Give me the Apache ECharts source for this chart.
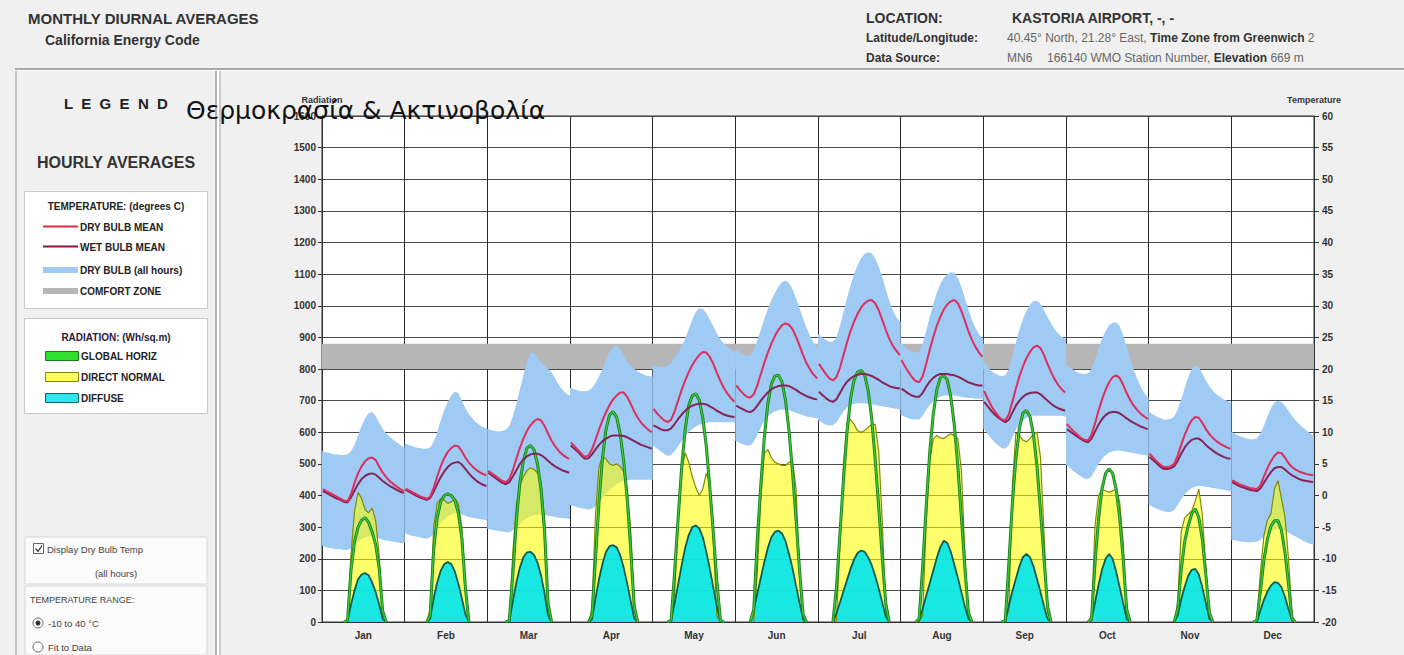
<!DOCTYPE html>
<html>
<head>
<meta charset="utf-8">
<title>Monthly Diurnal Averages</title>
<script src="https://cdn.jsdelivr.net/npm/echarts@6/dist/echarts.min.js"></script>
<style>
  html, body { margin: 0; padding: 0; background: #f0f0f0; }
  #chart { width: 1404px; height: 655px; }
</style>
</head>
<body>
<div id="chart"></div>
<script>
// ---- data: hourly averages (hour 0..23) for each month ----
const MONTHS = ['Jan', 'Feb', 'Mar', 'Apr', 'May', 'Jun', 'Jul', 'Aug', 'Sep', 'Oct', 'Nov', 'Dec'];

// Temperature axis (deg C, right) and radiation axis (W/sq.m, left)
const TEMP_RANGE = [-20, 60, 5];
const RAD_RANGE = [0, 1600, 100];
const comfortZone = [20, 24];

const dryBulbMean = [
  [1.0,0.7,0.4,0.1,-0.2,-0.5,-0.8,-0.9,0.2,2.0,3.5,4.6,5.4,5.9,6.0,5.6,4.6,3.6,2.9,2.3,1.8,1.4,1.0,0.7],
  [1.1,0.8,0.5,0.2,-0.1,-0.3,-0.5,-0.2,1.2,3.0,4.6,5.9,6.9,7.5,7.9,7.8,7.0,6.0,5.2,4.6,4.1,3.7,3.4,3.2],
  [3.9,3.5,3.1,2.7,2.3,2.1,2.6,4.0,5.8,7.5,9.0,10.2,11.1,11.7,12.1,11.9,11.0,9.8,8.7,7.8,7.1,6.5,6.1,5.8],
  [8.4,7.8,7.2,6.6,6.1,6.3,7.3,8.8,10.4,11.9,13.2,14.3,15.2,15.8,16.3,16.3,15.6,14.5,13.3,12.3,11.5,10.9,10.4,10.0],
  [13.7,13.0,12.4,11.9,11.6,12.0,13.3,15.0,16.7,18.2,19.5,20.6,21.5,22.2,22.7,22.6,21.9,20.8,19.4,18.1,17.0,16.1,15.4,14.8],
  [17.4,16.7,16.1,15.6,15.5,16.0,17.4,19.2,21.0,22.6,24.0,25.2,26.2,26.9,27.2,27.0,26.3,25.1,23.7,22.2,20.9,19.9,19.1,18.5],
  [20.8,20.0,19.2,18.5,18.2,18.7,20.2,22.2,24.2,26.0,27.5,28.7,29.7,30.4,30.8,30.9,30.4,29.3,27.8,26.2,24.8,23.7,22.9,22.2],
  [21.4,20.4,19.5,18.7,18.1,17.9,18.8,20.8,23.0,25.0,26.8,28.2,29.4,30.2,30.7,30.9,30.4,29.2,27.6,26.0,24.6,23.5,22.6,21.9],
  [16.5,15.3,14.2,13.3,12.6,12.0,11.9,12.8,14.8,16.9,18.8,20.4,21.7,22.7,23.4,23.7,23.3,22.2,20.8,19.5,18.4,17.5,16.8,16.3],
  [11.3,10.7,10.1,9.6,9.1,8.8,8.7,9.6,11.4,13.4,15.2,16.7,17.9,18.7,19.0,18.6,17.5,16.2,15.1,14.2,13.5,12.9,12.5,12.1],
  [6.6,6.0,5.4,4.9,4.5,4.5,4.6,5.0,6.3,8.0,9.6,10.9,11.9,12.4,12.3,11.5,10.5,9.7,9.1,8.6,8.2,7.9,7.6,7.4],
  [2.4,2.1,1.8,1.6,1.4,1.2,1.1,1.0,1.6,3.0,4.3,5.4,6.3,6.8,6.7,6.0,5.1,4.5,4.1,3.8,3.6,3.4,3.3,3.2]
];

const wetBulbMean = [
  [0.7,0.4,0.1,-0.2,-0.5,-0.7,-1.0,-1.1,-0.3,0.8,1.8,2.6,3.1,3.4,3.5,3.3,2.8,2.3,1.9,1.5,1.2,0.9,0.6,0.4],
  [0.9,0.6,0.3,0.0,-0.3,-0.5,-0.7,-0.4,0.6,1.8,2.9,3.8,4.5,5.0,5.2,5.3,4.9,4.2,3.5,2.9,2.4,2.0,1.7,1.5],
  [3.6,3.2,2.8,2.4,2.0,1.8,2.1,3.0,4.0,5.0,5.7,6.2,6.5,6.6,6.6,6.4,6.0,5.5,5.0,4.6,4.3,4.0,3.8,3.6],
  [7.9,7.4,6.9,6.3,5.8,5.9,6.5,7.3,8.0,8.6,9.0,9.3,9.5,9.5,9.5,9.4,9.2,8.9,8.6,8.3,8.0,7.8,7.6,7.4],
  [11.1,10.8,10.5,10.3,10.3,10.6,11.3,12.1,12.8,13.4,13.9,14.2,14.4,14.5,14.5,14.4,14.1,13.8,13.4,13.1,12.8,12.6,12.5,12.4],
  [14.2,13.9,13.6,13.3,13.2,13.5,14.2,15.0,15.7,16.3,16.8,17.1,17.3,17.4,17.4,17.3,17.0,16.7,16.3,16.0,15.7,15.5,15.3,15.2],
  [16.4,15.9,15.4,15.0,14.8,15.2,16.2,17.2,18.0,18.5,18.9,19.1,19.2,19.2,19.1,18.9,18.6,18.3,17.9,17.6,17.3,17.1,17.0,16.9],
  [16.9,16.5,16.1,15.8,15.6,15.6,16.2,17.2,18.0,18.6,19.0,19.2,19.2,19.2,19.1,19.0,18.8,18.5,18.2,17.9,17.7,17.5,17.4,17.4],
  [14.8,14.1,13.4,12.8,12.3,11.9,11.6,12.0,13.1,14.2,15.0,15.6,16.0,16.2,16.3,16.3,16.0,15.5,15.0,14.5,14.1,13.8,13.6,13.4],
  [10.5,10.1,9.7,9.3,8.9,8.6,8.4,9.0,10.1,11.2,12.1,12.7,13.1,13.2,13.2,13.0,12.6,12.2,11.8,11.5,11.2,10.9,10.7,10.5],
  [6.1,5.6,5.1,4.6,4.2,4.2,4.3,4.6,5.5,6.6,7.6,8.3,8.8,9.0,9.0,8.6,8.0,7.5,7.1,6.7,6.4,6.1,5.9,5.8],
  [2.1,1.8,1.5,1.3,1.1,0.9,0.8,0.7,1.1,2.0,2.9,3.7,4.3,4.5,4.5,4.1,3.6,3.2,2.9,2.6,2.4,2.3,2.2,2.1]
];

// Dry bulb, all hours: highest and lowest reading for each hour of the month
const dryBulbMax = [
  [7.0,6.8,6.7,6.5,6.5,6.4,6.4,6.5,7.0,8.0,9.5,11.0,12.2,13.0,13.2,12.6,11.5,10.5,9.8,9.3,8.8,8.4,8.0,7.6],
  [8.2,8.0,7.8,7.6,7.5,7.4,7.4,7.6,8.5,10.0,11.8,13.5,14.8,15.8,16.4,16.2,15.0,13.8,12.9,12.2,11.6,11.2,10.8,10.6],
  [10.5,10.3,10.2,10.1,10.2,10.4,11.0,12.5,14.5,16.8,19.0,21.0,22.6,22.4,21.8,21.0,20.5,20.0,19.5,18.5,17.5,16.8,16.2,15.8],
  [17.0,16.8,16.6,16.5,16.5,16.6,17.0,17.8,18.8,20.0,21.5,22.8,23.4,23.7,23.2,22.2,21.2,20.5,20.0,19.6,19.3,19.0,18.9,18.8],
  [20.6,20.4,20.3,20.3,20.5,21.0,21.8,22.6,23.5,24.8,26.3,27.8,29.0,29.6,29.5,28.8,27.8,26.7,25.6,24.7,24.0,23.5,23.1,22.8],
  [23.0,22.6,22.3,22.1,22.2,23.0,24.5,26.2,27.9,29.5,30.9,32.0,33.0,33.7,34.0,33.6,32.6,31.2,29.6,28.0,26.5,25.2,24.2,23.4],
  [25.5,25.0,24.6,24.3,24.3,25.0,26.8,29.0,31.2,33.2,35.0,36.4,37.5,38.2,38.5,38.3,37.5,36.2,34.5,32.6,30.8,29.3,28.2,27.5],
  [24.0,23.5,23.0,22.7,22.6,22.7,24.0,26.0,28.2,30.2,32.0,33.4,34.4,35.0,35.3,35.2,34.4,33.0,31.2,29.4,27.8,26.5,25.5,24.8],
  [21.0,20.3,19.7,19.3,19.0,18.9,19.0,20.0,22.0,24.2,26.2,27.9,29.2,30.2,30.7,30.8,30.3,29.3,28.2,27.2,26.3,25.6,25.1,24.8],
  [20.6,20.2,19.8,19.5,19.3,19.2,19.3,20.0,21.5,23.2,24.8,26.0,26.9,27.3,27.4,26.8,25.3,23.5,21.6,19.9,18.4,17.2,16.2,15.5],
  [13.2,12.8,12.5,12.2,12.0,12.0,12.1,12.5,13.6,15.2,17.0,18.7,20.0,20.6,20.3,19.3,18.2,17.3,16.6,16.0,15.6,15.2,15.0,14.8],
  [10.0,9.7,9.4,9.2,9.0,8.9,8.9,9.0,9.8,11.0,12.5,13.8,14.7,15.0,14.8,14.2,13.4,12.6,11.9,11.3,10.8,10.3,9.9,9.5]
];

const dryBulbMin = [
  [-8.0,-8.2,-8.3,-8.4,-8.5,-8.5,-8.6,-8.6,-8.3,-7.8,-7.3,-6.9,-6.6,-6.5,-6.5,-6.6,-6.8,-7.0,-7.1,-7.2,-7.3,-7.4,-7.5,-7.5],
  [-6.0,-6.2,-6.4,-6.5,-6.6,-6.7,-6.8,-6.6,-6.0,-5.2,-4.4,-3.8,-3.3,-3.0,-2.8,-2.8,-3.0,-3.2,-3.4,-3.5,-3.6,-3.7,-3.8,-3.9],
  [-5.3,-5.4,-5.5,-5.6,-5.7,-5.8,-5.8,-5.5,-5.0,-4.5,-4.0,-3.6,-3.3,-3.1,-3.0,-3.0,-3.1,-3.2,-3.3,-3.4,-3.5,-3.6,-3.6,-3.7],
  [-1.5,-1.7,-1.9,-2.0,-2.1,-2.2,-2.1,-1.7,-1.1,-0.4,0.3,0.9,1.4,1.8,2.1,2.3,2.4,2.5,2.5,2.5,2.5,2.5,2.5,2.5],
  [7.9,7.4,7.0,6.6,6.3,6.4,7.0,7.8,8.6,9.4,10.0,10.5,10.9,11.2,11.4,11.5,11.6,11.6,11.6,11.6,11.6,11.6,11.6,11.6],
  [8.6,8.3,8.1,7.9,7.9,8.5,9.6,10.8,11.8,12.5,13.0,13.3,13.5,13.6,13.6,13.5,13.3,13.1,12.9,12.7,12.5,12.4,12.3,12.2],
  [11.8,11.5,11.2,11.1,11.1,11.6,12.5,13.3,13.9,14.3,14.5,14.6,14.6,14.6,14.5,14.4,14.3,14.2,14.1,14.0,13.9,13.8,13.7,13.6],
  [12.7,12.4,12.2,12.0,12.0,12.0,12.6,13.5,14.3,14.9,15.3,15.6,15.8,15.8,15.8,15.8,15.7,15.6,15.5,15.4,15.4,15.3,15.3,15.3],
  [10.5,9.7,9.0,8.4,7.9,7.5,7.4,8.0,9.2,10.4,11.3,11.9,12.3,12.5,12.6,12.6,12.6,12.6,12.6,12.6,12.6,12.6,12.6,12.5],
  [4.8,4.3,3.8,3.4,3.0,2.7,2.6,3.0,4.0,5.0,5.8,6.4,6.8,7.0,7.1,7.1,7.0,6.9,6.8,6.7,6.6,6.5,6.4,6.3],
  [-1.5,-1.8,-2.1,-2.3,-2.5,-2.6,-2.6,-2.3,-1.5,-0.6,0.2,0.8,1.2,1.4,1.5,1.5,1.4,1.3,1.2,1.1,1.0,0.9,0.8,0.7],
  [-7.0,-7.1,-7.2,-7.3,-7.4,-7.4,-7.4,-7.3,-7.0,-6.5,-6.0,-5.6,-5.4,-5.3,-5.4,-5.6,-5.9,-6.2,-6.5,-6.8,-7.1,-7.4,-7.6,-7.8]
];

// Radiation, W/sq.m
const globalHoriz = [
  [0,0,0,0,0,0,0,5,165,255,300,322,330,315,285,245,170,35,0,0,0,0,0,0],
  [0,0,0,0,0,0,0,20,230,330,380,400,405,400,385,345,265,110,0,0,0,0,0,0],
  [0,0,0,0,0,0,5,150,320,440,510,550,558,545,500,420,290,60,0,0,0,0,0,0],
  [0,0,0,0,0,0,20,200,380,520,610,655,665,648,595,510,390,230,50,0,0,0,0,0],
  [0,0,0,0,0,5,160,330,490,610,685,715,722,702,645,555,425,280,130,5,0,0,0,0],
  [0,0,0,0,0,40,265,435,585,692,752,778,780,760,702,605,475,325,165,25,0,0,0,0],
  [0,0,0,0,0,110,280,450,600,705,765,790,795,782,732,645,515,365,205,60,0,0,0,0],
  [0,0,0,0,0,10,175,365,535,655,733,772,780,765,712,622,492,332,172,30,0,0,0,0],
  [0,0,0,0,0,0,5,185,375,515,612,660,669,650,592,492,352,200,50,0,0,0,0,0],
  [0,0,0,0,0,0,0,10,185,325,422,470,484,470,420,330,200,40,0,0,0,0,0,0],
  [0,0,0,0,0,0,0,0,40,165,255,305,342,358,330,262,150,30,0,0,0,0,0,0],
  [0,0,0,0,0,0,0,5,95,195,262,302,320,321,290,220,120,10,0,0,0,0,0,0]
];

const directNormal = [
  [0,0,0,0,0,0,0,5,215,350,410,390,355,345,360,320,210,30,0,0,0,0,0,0],
  [0,0,0,0,0,0,0,40,300,375,390,385,375,380,390,375,300,120,0,0,0,0,0,0],
  [0,0,0,0,0,0,10,220,370,430,460,478,488,482,472,445,330,50,0,0,0,0,0,0],
  [0,0,0,0,0,0,40,340,490,525,515,500,495,500,492,475,425,290,50,0,0,0,0,0],
  [0,0,0,0,0,5,90,310,480,535,505,460,425,400,420,470,440,255,20,0,0,0,0,0],
  [0,0,0,0,0,0,160,390,535,545,520,505,500,495,495,505,510,420,150,0,0,0,0,0],
  [0,0,0,0,0,5,250,500,630,640,625,605,600,605,615,625,625,540,320,30,0,0,0,0],
  [0,0,0,0,0,0,20,310,505,578,590,582,580,588,595,590,580,480,220,10,0,0,0,0],
  [0,0,0,0,0,0,0,40,430,597,590,575,570,580,595,600,520,280,30,0,0,0,0,0],
  [0,0,0,0,0,0,0,20,305,400,420,415,410,415,420,380,250,30,0,0,0,0,0,0],
  [0,0,0,0,0,0,0,0,60,285,330,340,352,382,420,340,170,20,0,0,0,0,0,0],
  [0,0,0,0,0,0,0,5,155,272,322,342,420,447,390,332,200,20,0,0,0,0,0,0]
];

const diffuseHoriz = [
  [0,0,0,0,0,0,0,3,55,100,135,150,155,148,125,95,55,10,0,0,0,0,0,0],
  [0,0,0,0,0,0,0,10,75,125,162,183,190,183,160,122,75,25,0,0,0,0,0,0],
  [0,0,0,0,0,0,2,65,125,172,205,220,222,212,188,148,92,20,0,0,0,0,0,0],
  [0,0,0,0,0,0,8,75,135,185,222,240,243,236,212,172,122,66,12,0,0,0,0,0],
  [0,0,0,0,0,5,60,120,180,235,275,300,305,296,268,222,167,108,48,3,0,0,0,0],
  [0,0,0,0,0,40,90,140,190,235,268,285,289,280,256,216,170,115,60,10,0,0,0,0],
  [0,0,0,0,0,28,62,98,133,168,198,218,226,222,205,180,146,106,62,18,0,0,0,0],
  [0,0,0,0,0,5,42,82,122,162,202,236,257,250,222,182,140,95,50,10,0,0,0,0],
  [0,0,0,0,0,0,3,52,97,137,176,205,215,205,176,136,95,50,10,0,0,0,0,0],
  [0,0,0,0,0,0,0,5,62,117,166,200,215,200,160,110,60,10,0,0,0,0,0,0],
  [0,0,0,0,0,0,0,0,20,72,112,146,165,168,150,110,60,10,0,0,0,0,0,0],
  [0,0,0,0,0,0,0,0,36,70,96,115,126,124,110,80,40,5,0,0,0,0,0,0]
];

// ---- helpers ----
const FONT = '"Liberation Sans", Arial, Helvetica, sans-serif';
const HOURS = 24;

// position of an hour inside its month on the 0..288 hour axis
function hourX(m, h) { return m * HOURS + 0.25 + h * (23.5 / 23); }

// one line per month: a gap ('-') separates consecutive months
function monthSegments(rows) {
  const out = [];
  rows.forEach((row, m) => {
    row.forEach((v, h) => out.push([hourX(m, h), v]));
    out.push([m * HOURS + HOURS, '-']);
  });
  return out;
}

// radiation: night hours (zero with zero neighbours) are left empty
function daylight(rows) {
  const flat = [];
  rows.forEach((row, m) => row.forEach((v, h) => flat.push({ x: hourX(m, h), v })));
  return flat.map((p, i) => {
    const prev = i > 0 ? flat[i - 1].v : 0;
    const next = i < flat.length - 1 ? flat[i + 1].v : 0;
    return (p.v === 0 && prev === 0 && next === 0) ? [p.x, '-'] : [p.x, p.v];
  });
}

// text helpers for the page furniture
const measureCtx = document.createElement('canvas').getContext('2d');
function textW(str, font) { measureCtx.font = font; return measureCtx.measureText(str).width; }

function label(x, y, text, font, fill, align) {
  return {
    type: 'text', x: x, y: y, silent: true,
    style: {
      text: text, font: font, fill: fill || '#222',
      textAlign: align || 'left', textVerticalAlign: 'middle',
      align: align || 'left', verticalAlign: 'middle'
    }
  };
}
// a run of differently styled pieces on one line
function textRun(x, y, parts) {
  const els = [];
  let cx = x;
  parts.forEach(p => {
    els.push(label(cx, y, p[0], p[1], p[2]));
    cx += textW(p[0], p[1]);
  });
  return els;
}
function box(x, y, w, h, fill, stroke, lw) {
  return { type: 'rect', silent: true, shape: { x: x, y: y, width: w, height: h },
           style: { fill: fill, stroke: stroke || null, lineWidth: lw || 0 } };
}

const COLORS = {
  dry: '#dd2e5e',
  wet: '#862457',
  band: '#9ecaf4',
  comfort: '#b6b6b6',
  globalDark: '#1d7d1d',
  globalLight: '#36cc3a',
  directFill: 'rgba(255,255,0,0.58)',
  directLine: '#7f8c05',
  diffuseFill: 'rgba(0,228,238,0.9)',
  diffuseLine: '#0b5c52'
};

// ---- header, side panel and legend ----
const B14 = 'bold 14px ' + FONT;
const B15 = 'bold 15px ' + FONT;
const B12 = 'bold 12px ' + FONT;
const R12 = '12px ' + FONT;
const B10 = 'bold 10px ' + FONT;
const R9 = '9.5px ' + FONT;

const graphics = [
  // header separator and panel frames
  box(15, 68, 1389, 2, '#a9a9a9'),
  box(15, 70, 1389, 1, '#ffffff'),
  box(15, 71, 2, 584, '#c4c4c4'),
  box(215, 71, 2, 584, '#b3b3b3'),
  box(217, 71, 2, 584, '#ffffff'),
  box(219, 71, 2, 584, '#c9c9c9'),

  label(28, 18, 'MONTHLY DIURNAL AVERAGES', B15, '#333'),
  label(45, 40, 'California Energy Code', B14, '#333'),
  label(866, 18, 'LOCATION:', B14, '#333'),
  label(1012, 18, 'KASTORIA AIRPORT, -, -', B14, '#333'),
  label(866, 38, 'Latitude/Longitude:', B12, '#333'),
  label(866, 58, 'Data Source:', B12, '#333'),
  ...textRun(1007, 38, [
    ['40.45° North, 21.28° East, ', R12, '#666'],
    ['Time Zone from Greenwich', B12, '#333'],
    [' 2', R12, '#666']
  ]),
  label(1007, 58, 'MN6', R12, '#666'),
  ...textRun(1047, 58, [
    ['166140 WMO Station Number, ', R12, '#666'],
    ['Elevation', B12, '#333'],
    [' 669 m', R12, '#666']
  ]),

  label(116, 103, 'L  E  G  E  N  D', 'bold 15px ' + FONT, '#222', 'center'),
  label(116, 162, 'HOURLY AVERAGES', 'bold 16px ' + FONT, '#333', 'center'),

  // temperature legend
  box(24.5, 191.5, 183, 117, '#ffffff', '#c9c9c9', 1),
  label(116, 206, 'TEMPERATURE: (degrees C)', B10, '#222', 'center'),
  { type: 'line', silent: true, shape: { x1: 43, y1: 226.5, x2: 78, y2: 226.5 }, style: { stroke: '#e02a45', lineWidth: 2 } },
  { type: 'line', silent: true, shape: { x1: 43, y1: 246.5, x2: 78, y2: 246.5 }, style: { stroke: '#8c1436', lineWidth: 2 } },
  box(43, 267, 35, 6, COLORS.band),
  box(43, 288, 35, 6, COLORS.comfort),
  label(80, 227, 'DRY BULB MEAN', B10, '#222'),
  label(80, 247, 'WET BULB MEAN', B10, '#222'),
  label(80, 270, 'DRY BULB (all hours)', B10, '#222'),
  label(80, 291, 'COMFORT ZONE', B10, '#222'),

  // radiation legend
  box(24.5, 318.5, 183, 95, '#ffffff', '#c9c9c9', 1),
  label(116, 337, 'RADIATION: (Wh/sq.m)', B10, '#2a1a3a', 'center'),
  box(45.5, 351.5, 33, 9, '#2ee02e', '#1b7a1b', 1),
  box(45.5, 372.5, 33, 9, '#ffff55', '#7f8c05', 1),
  box(45.5, 393.5, 33, 9, '#2ee6ee', '#0b6a60', 1),
  label(81, 356, 'GLOBAL HORIZ', B10, '#222'),
  label(81, 377, 'DIRECT NORMAL', B10, '#222'),
  label(81, 398, 'DIFFUSE', B10, '#222'),

  // display controls
  box(25, 537, 182, 47, '#fbfbfb', '#d8d8d8', 1),
  box(33.5, 543.5, 10, 10, '#ffffff', '#666', 1),
  { type: 'polyline', silent: true, shape: { points: [[35.5, 548.5], [38, 551.5], [42, 545.5]] }, style: { stroke: '#333', lineWidth: 1.2, fill: null } },
  label(47, 549, 'Display Dry Bulb Temp', R9, '#444'),
  label(116, 573, '(all hours)', R9, '#444', 'center'),
  box(25, 586, 182, 69, '#fbfbfb', '#d8d8d8', 1),
  label(30, 600, 'TEMPERATURE RANGE:', '9px ' + FONT, '#444'),
  { type: 'circle', silent: true, shape: { cx: 38, cy: 623, r: 5 }, style: { fill: '#fff', stroke: '#666', lineWidth: 1 } },
  { type: 'circle', silent: true, shape: { cx: 38, cy: 623, r: 2.5 }, style: { fill: '#333' } },
  label(48, 623, '-10 to 40 °C', R9, '#444'),
  { type: 'circle', silent: true, shape: { cx: 38, cy: 647, r: 5 }, style: { fill: '#fff', stroke: '#666', lineWidth: 1 } },
  label(48, 647, 'Fit to Data', R9, '#444')
];

// ---- chart ----
const chart = echarts.init(document.getElementById('chart'), null, { renderer: 'svg', width: 1404, height: 655 });

const axisLabelStyle = { fontFamily: FONT, fontWeight: 'bold', fontSize: 10, color: '#333' };
const plainNumber = v => String(v);

const option = {
  backgroundColor: '#f0f0f0',
  animation: false,
  title: {
    text: 'Θερμοκρασία & Ακτινοβολία',
    left: 181, top: 93,
    textStyle: { fontFamily: '"DejaVu Sans", sans-serif', fontSize: 25, fontWeight: 'normal', color: '#111' }
  },
  grid: {
    left: 322, right: 90, top: 116, bottom: 33,
    show: true, backgroundColor: '#ffffff', borderColor: '#333', borderWidth: 1,
    outerBoundsMode: 'none'
  },
  xAxis: [
    {
      type: 'value', min: 0, max: MONTHS.length * HOURS, interval: HOURS,
      axisLabel: { show: false }, axisTick: { show: false },
      axisLine: { show: true, lineStyle: { color: '#333', width: 1 } },
      splitLine: { show: true, lineStyle: { color: '#2a2a2a', width: 1 } }
    },
    {
      type: 'category', data: MONTHS, position: 'bottom', boundaryGap: true,
      axisLine: { show: false }, axisTick: { show: false }, splitLine: { show: false },
      axisLabel: Object.assign({ margin: 8 }, axisLabelStyle)
    }
  ],
  yAxis: [
    {
      type: 'value', min: RAD_RANGE[0], max: RAD_RANGE[1], interval: RAD_RANGE[2],
      name: 'Radiation', nameLocation: 'end', nameGap: 12,
      nameTextStyle: { fontFamily: FONT, fontWeight: 'bold', fontSize: 9, color: '#333', align: 'center' },
      axisLine: { show: true, lineStyle: { color: '#333' } },
      axisTick: { show: true, length: 4, lineStyle: { color: '#333' } },
      axisLabel: Object.assign({ margin: 6, formatter: plainNumber }, axisLabelStyle),
      splitLine: { show: true, lineStyle: { color: '#4a4a4a', width: 1.2 } }
    },
    {
      type: 'value', position: 'right', min: TEMP_RANGE[0], max: TEMP_RANGE[1], interval: TEMP_RANGE[2],
      name: 'Temperature', nameLocation: 'end', nameGap: 12,
      nameTextStyle: { fontFamily: FONT, fontWeight: 'bold', fontSize: 9, color: '#333', align: 'center' },
      axisLine: { show: true, lineStyle: { color: '#333' } },
      axisTick: { show: true, length: 5, lineStyle: { color: '#333' } },
      axisLabel: Object.assign({ margin: 8, formatter: plainNumber }, axisLabelStyle),
      splitLine: { show: false }
    }
  ],
  series: [
    {
      name: 'COMFORT ZONE', type: 'custom', xAxisIndex: 0, yAxisIndex: 1, silent: true,
      data: [[0, comfortZone[0]]],
      renderItem: function (params, api) {
        const a = api.coord([0, comfortZone[1]]);
        const b = api.coord([MONTHS.length * HOURS, comfortZone[0]]);
        return { type: 'rect', shape: { x: a[0], y: a[1], width: b[0] - a[0], height: b[1] - a[1] },
                 style: { fill: COLORS.comfort } };
      }
    },
    {
      name: 'DRY BULB (all hours)', type: 'custom', xAxisIndex: 0, yAxisIndex: 1, silent: true,
      data: MONTHS.map((_, m) => [m * HOURS, dryBulbMin[m][0]]),
      renderItem: function (params, api) {
        const m = params.dataIndex;
        const top = dryBulbMax[m], bot = dryBulbMin[m];
        const pts = [api.coord([m * HOURS, top[0]])];
        top.forEach((v, h) => pts.push(api.coord([hourX(m, h), v])));
        pts.push(api.coord([m * HOURS + HOURS, top[HOURS - 1]]));
        pts.push(api.coord([m * HOURS + HOURS, bot[HOURS - 1]]));
        for (let h = HOURS - 1; h >= 0; h--) pts.push(api.coord([hourX(m, h), bot[h]]));
        pts.push(api.coord([m * HOURS, bot[0]]));
        return { type: 'polygon', shape: { points: pts }, style: { fill: COLORS.band } };
      }
    },
    {
      name: 'DIRECT NORMAL', type: 'line', xAxisIndex: 0, yAxisIndex: 0,
      symbol: 'none', data: daylight(directNormal),
      lineStyle: { color: COLORS.directLine, width: 1.2 },
      areaStyle: { color: COLORS.directFill, opacity: 1 }
    },
    {
      name: 'DIFFUSE', type: 'line', xAxisIndex: 0, yAxisIndex: 0,
      symbol: 'none', data: daylight(diffuseHoriz),
      lineStyle: { color: COLORS.diffuseLine, width: 1.8 },
      areaStyle: { color: COLORS.diffuseFill, opacity: 1 }
    },
    {
      name: 'GLOBAL HORIZ', type: 'line', xAxisIndex: 0, yAxisIndex: 0,
      symbol: 'none', data: daylight(globalHoriz),
      lineStyle: { color: COLORS.globalDark, width: 3 }
    },
    {
      name: 'GLOBAL HORIZ (core)', type: 'line', xAxisIndex: 0, yAxisIndex: 0,
      symbol: 'none', data: daylight(globalHoriz),
      lineStyle: { color: COLORS.globalLight, width: 1.3 }
    },
    {
      name: 'WET BULB MEAN', type: 'line', xAxisIndex: 0, yAxisIndex: 1,
      symbol: 'none', connectNulls: false, data: monthSegments(wetBulbMean),
      lineStyle: { color: COLORS.wet, width: 2 }
    },
    {
      name: 'DRY BULB MEAN', type: 'line', xAxisIndex: 0, yAxisIndex: 1,
      symbol: 'none', connectNulls: false, data: monthSegments(dryBulbMean),
      lineStyle: { color: COLORS.dry, width: 2 }
    }
  ],
  graphic: graphics
};

chart.setOption(option);
</script>
</body>
</html>
